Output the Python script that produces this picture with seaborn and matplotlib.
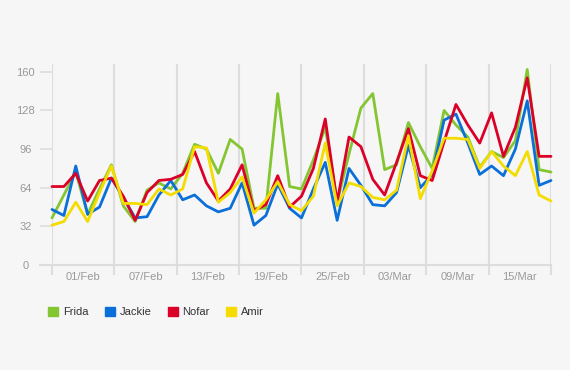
import numpy as np
import pandas as pd
import matplotlib
matplotlib.use("Agg")
import matplotlib.pyplot as plt
from matplotlib.patches import Patch
import seaborn as sns

# ---- data ----
series_names = ["Frida", "Jackie", "Nofar", "Amir"]
colors = ["#84c631", "#0a6fd8", "#dc0028", "#f5dc00"]
tick_labels = ["01/Feb", "07/Feb", "13/Feb", "19/Feb", "25/Feb", "03/Mar", "09/Mar", "15/Mar"]
y_ticks = [0, 32, 64, 96, 128, 160]

frida = [39, 58, 77, 42, 63, 83, 49, 36, 62, 68, 63, 76, 100, 96, 76, 104, 96, 47, 47, 142,
         65, 63, 87, 114, 52, 92, 130, 142, 79, 83, 118, 98, 80, 128, 116, 106, 81, 94, 89, 103,
         162, 79, 77]
jackie = [46, 41, 82, 42, 48, 72, 56, 39, 40, 58, 70, 54, 58, 49, 44, 47, 68, 33, 41, 67,
          47, 39, 63, 85, 37, 80, 66, 50, 49, 60, 99, 64, 75, 120, 125, 101, 75, 82, 74, 96,
          136, 66, 70]
nofar = [65, 65, 76, 53, 70, 72, 57, 37, 60, 70, 71, 75, 94, 68, 53, 63, 83, 45, 50, 74,
         48, 57, 80, 121, 52, 106, 98, 71, 58, 85, 113, 74, 70, 102, 133, 116, 101, 126, 90, 114,
         155, 90, 90]
amir = [33, 36, 52, 36, 60, 82, 51, 51, 50, 63, 58, 63, 98, 97, 52, 60, 73, 43, 54, 69,
        50, 45, 57, 101, 49, 68, 65, 56, 54, 62, 107, 55, 78, 105, 105, 104, 80, 94, 82, 74,
        94, 58, 53]

values = [frida, jackie, nofar, amir]
n = len(frida)
idx = np.arange(n)
df = pd.concat([pd.DataFrame({"i": idx, "value": v, "name": s})
                for s, v in zip(series_names, values)], ignore_index=True)

# ---- figure ----
sns.set_theme(style="white")
plt.rcParams["font.family"] = ["Liberation Sans", "DejaVu Sans"]
bg = "#f6f6f6"
fig = plt.figure(figsize=(5.7, 3.7), dpi=100, facecolor=bg)
W, H = 570, 370
ax = fig.add_axes([52 / W, 1 - 265 / H, (551 - 52) / W, (265 - 64) / H])
ax.set_facecolor(bg)

sns.lineplot(data=df, x="i", y="value", hue="name", palette=dict(zip(series_names, colors)),
             linewidth=2.0, ax=ax, legend=False, zorder=3, clip_on=False)

ax.set_xlim(0, n - 1)
ax.set_ylim(0, 166.5)
ax.set_xlabel("")
ax.set_ylabel("")

grid_color = "#dddddd"
nb = len(tick_labels)
step = (n - 1) / nb
grid_pos = np.arange(nb + 1) * step
center_pos = (np.arange(nb) + 0.5) * step

for gx in grid_pos:
    ax.axvline(gx, color=grid_color, lw=1.5, zorder=1)

ax.set_xticks(grid_pos)
ax.set_xticklabels([])
ax.set_xticks(center_pos, minor=True)
ax.set_xticklabels(tick_labels, minor=True)
ax.tick_params(axis="x", which="major", direction="out", length=7.5, width=1.5,
               color=grid_color, bottom=True)
ax.tick_params(axis="x", which="minor", length=0, pad=5, labelsize=8, labelcolor="#999999")

ax.set_yticks(y_ticks)
ax.set_yticklabels([str(t) for t in y_ticks])
ax.tick_params(axis="y", direction="out", length=8.6, width=1.2, color=grid_color,
               left=True, pad=10.5, labelsize=8, labelcolor="#999999")
for lab in ax.get_yticklabels():
    lab.set_horizontalalignment("center")

for side in ["top", "right", "left"]:
    ax.spines[side].set_visible(False)
ax.spines["bottom"].set_color(grid_color)
ax.spines["bottom"].set_linewidth(1.5)
ax.spines["bottom"].set_bounds(-12 / (499 / (n - 1)), n - 1)
ax.spines["bottom"].set_clip_on(False)

handles = [Patch(facecolor=c, edgecolor=c, label=s) for s, c in zip(series_names, colors)]
leg = fig.legend(handles=handles, loc="center left", bbox_to_anchor=(48 / W, 1 - 312 / H),
                 ncol=4, frameon=False, fontsize=8, handlelength=0.9, handleheight=0.9,
                 handletextpad=0.45, columnspacing=1.45, borderaxespad=0, borderpad=0)
for t in leg.get_texts():
    t.set_color("#333333")

fig.savefig("out.png", dpi=100, facecolor=bg)
